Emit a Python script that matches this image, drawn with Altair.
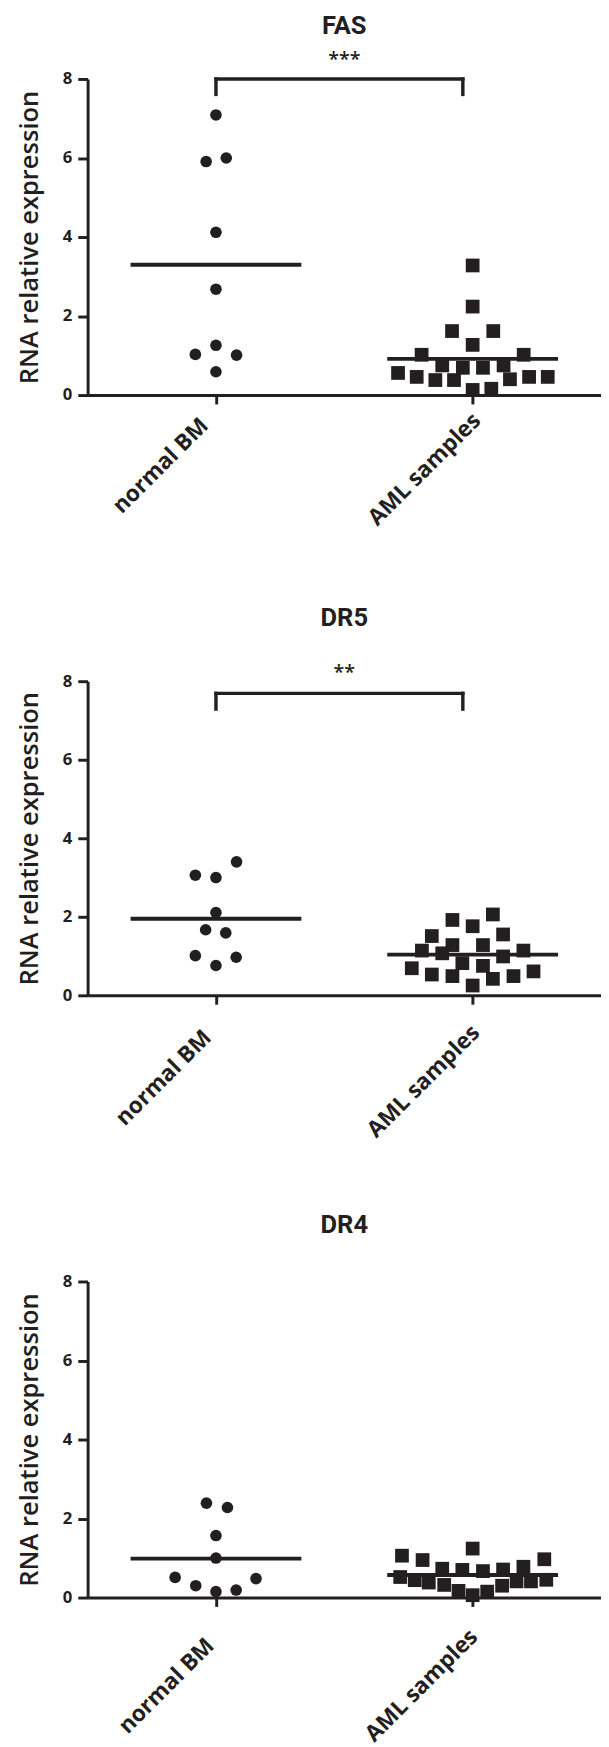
import altair as alt
import pandas as pd

INK = "#231f20"
FONT = "Open Sans"
TFONT = "Roboto"
groups = ["normal BM", "AML samples"]
y_ticks = [0, 2, 4, 6, 8]

# FAS
fas_bm = [7.09, 5.91, 6.00, 4.12, 2.68, 1.26, 1.03, 1.01, 0.59]
fas_bm_dx = [0, -10, 10.5, 0, 0, 0, -21, 21, 0]
fas_aml = [3.28, 2.24, 1.62, 1.62, 1.27, 1.02, 1.02, 0.75, 0.69, 0.69,
           0.75, 0.56, 0.46, 0.38, 0.38, 0.40, 0.46, 0.46, 0.13, 0.16]
fas_aml_dx = [0, 0, -21, 21, 0, -52, 52, -31, -10, 10.5,
              31.5, -76, -57, -38, -19, 38, 57.5, 76.5, 0, 19]

# DR5
dr5_bm = [3.40, 3.06, 3.00, 2.11, 1.67, 1.59, 1.01, 0.97, 0.76]
dr5_bm_dx = [21, -21, 0, 0, -10.5, 10, -21, 20.6, 0]
dr5_aml = [2.06, 1.92, 1.76, 1.51, 1.55, 1.28, 1.28, 1.14, 1.07, 1.14,
           0.99, 0.82, 0.75, 0.69, 0.53, 0.49, 0.61, 0.42, 0.49, 0.25]
dr5_aml_dx = [20.6, -20.6, 0, -41.6, 31, -20.6, 10.5, -51.7, -31, 51.7,
              31, -10.5, 10.5, -62, -41.6, -20.6, 62, 20.6, 41.6, 0]

# DR4
dr4_bm = [2.39, 2.28, 1.57, 1.00, 0.51, 0.48, 0.30, 0.15, 0.19]
dr4_bm_dx = [-9.7, 11.7, 0, 0, -41.6, 40.8, -20.6, 0, 20.6]
dr4_aml = [1.24, 1.06, 0.95, 0.97, 0.73, 0.70, 0.67, 0.71, 0.78, 0.52,
           0.44, 0.38, 0.32, 0.17, 0.06, 0.15, 0.30, 0.41, 0.41, 0.45]
dr4_aml_dx = [0, -72, -51, 73, -31, -10.5, 10.5, 31, 51.7, -73.8,
              -59, -44.7, -29, -14.4, 0, 14.8, 30, 44.7, 59.4, 75]

# significance brackets: (top, bottom, label, label level)
fas_sig = (8.0, 7.61, "***", 8.33)
dr5_sig = (7.69, 7.29, "**", 8.05)

W = 523
YTITLE = "RNA relative expression"


def xenc(field, lab):
    bm_off, aml_off, bm_pad, aml_pad = lab
    test = "datum.value == 'normal BM'"
    return alt.X(f"{field}:N",
                 scale=alt.Scale(type="point", domain=groups, padding=0.5),
                 axis=alt.Axis(
                     labelOffset={"condition": {"test": test, "value": bm_off}, "value": aml_off},
                     labelPadding={"condition": {"test": test, "value": bm_pad}, "value": aml_pad},
                 ),
                 title=None)


def yenc(field):
    return alt.Y(f"{field}:Q",
                 scale=alt.Scale(domain=[0, 8], nice=False, zero=True),
                 axis=alt.Axis(values=y_ticks),
                 title=YTITLE)


def panel(name, bm, bm_dx, aml, aml_dx, h, title_offset, lab, sig=None):
    df = pd.DataFrame({
        "group": [groups[0]] * len(bm) + [groups[1]] * len(aml),
        "value": bm + aml,
        "dx": bm_dx + aml_dx,
    })
    base = alt.Chart(df)
    pts = base.mark_point(filled=True, opacity=1, color=INK).encode(
        x=xenc("group", lab),
        y=yenc("value"),
        xOffset=alt.XOffset("dx:Q", scale=None),
        shape=alt.Shape("group:N", scale=alt.Scale(domain=groups, range=["circle", "square"]), legend=None),
        size=alt.Size("group:N", scale=alt.Scale(domain=groups, range=[140, 196]), legend=None),
    )
    mean = base.transform_aggregate(m="mean(value)", groupby=["group"]).mark_tick(
        orient="horizontal", size=174, thickness=4, color=INK, opacity=1
    ).encode(x=xenc("group", lab), y=yenc("m"))
    layers = [mean, pts]
    if sig is not None:
        top, bot, stars, ly = sig
        sd = pd.DataFrame({"a": [groups[0]], "b": [groups[1]], "top": [top], "bot": [bot],
                           "lab": [stars], "ly": [ly]})
        sb = alt.Chart(sd)
        hor = sb.mark_rule(strokeWidth=3.5, color=INK, x2Offset=-10, strokeCap="square").encode(
            x=xenc("a", lab), x2="b:N", y=yenc("top"))
        lv = sb.mark_rule(strokeWidth=3.5, color=INK, strokeCap="square").encode(
            x=xenc("a", lab), y=yenc("top"), y2="bot:Q")
        rv = sb.mark_rule(strokeWidth=3.5, color=INK, xOffset=-10, strokeCap="square").encode(
            x=xenc("b", lab), y=yenc("top"), y2="bot:Q")
        txt = sb.mark_text(font=FONT, fontSize=20, fontWeight=600, color=INK,
                           align="center", baseline="alphabetic").encode(
            x=alt.value(W / 2), y=yenc("ly"), text="lab:N")
        layers += [hor, lv, rv, txt]
    return alt.layer(*layers).properties(
        width=W, height=h,
        title=alt.TitleParams(name, fontSize=26, font=TFONT, fontWeight="bold",
                              color=INK, anchor="middle", offset=title_offset),
    )


# label placement per panel: (BM offset, AML offset, BM padding, AML padding)
p1 = panel("FAS", fas_bm, fas_bm_dx, fas_aml, fas_aml_dx, 322, 11.5, (-12, 4, 18, 13), fas_sig)
p2 = panel("DR5", dr5_bm, dr5_bm_dx, dr5_aml, dr5_aml_dx, 320, 33.0, (-9, 3, 30, 25), dr5_sig)
p3 = panel("DR4", dr4_bm, dr4_bm_dx, dr4_aml, dr4_aml_dx, 322, 35.5, (-6, 1, 36, 27))

chart = alt.vconcat(p1, p2, p3, spacing=291.5, bounds="flush").properties(
    padding={"left": 9.1, "top": -11.1, "right": 0, "bottom": 0}
).configure_view(stroke=None).configure_axis(
    grid=False, domainColor=INK, domainWidth=3, tickColor=INK, tickWidth=3,
    labelFont=FONT, labelFontWeight="bold", labelColor=INK,
    titleFont=FONT, titleColor=INK,
).configure_axisX(
    labelAngle=-45, labelFontSize=23, tickSize=9,
    labelAlign="right", labelBaseline="middle",
).configure_axisY(
    tickSize=10, labelFontSize=17, labelPadding=6,
    titleFontSize=26, titleFontWeight=600, titlePadding=20,
)

chart.save("out.html", embed_options={"renderer": "svg", "actions": False})
